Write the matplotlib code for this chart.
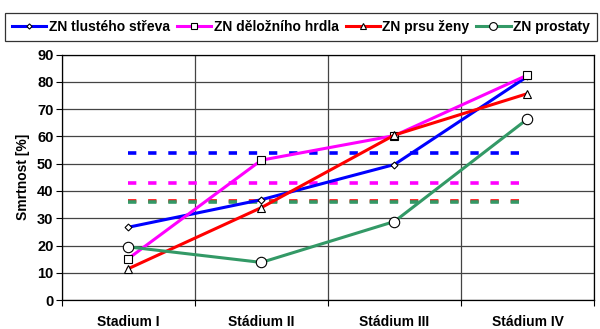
import matplotlib
matplotlib.use("Agg")
import matplotlib.pyplot as plt
import numpy as np

plt.rcParams['font.family'] = ['Liberation Sans', 'DejaVu Sans']
plt.rcParams['font.weight'] = 'bold'
plt.rcParams['lines.scale_dashes'] = False

categories = ["Stadium I", "Stádium II", "Stádium III", "Stádium IV"]
series_names = ["ZN tlustého střeva", "ZN děložního hrdla", "ZN prsu ženy", "ZN prostaty"]
colon = [26.7, 36.8, 49.7, 82.0]
cervix = [15.2, 51.3, 60.3, 82.5]
breast = [11.5, 33.9, 60.5, 75.7]
prostate = [19.5, 13.8, 28.8, 66.4]
averages = [54.0, 42.8, 36.4, 36.0]

colors = ["#0000ff", "#ff00ff", "#ff0000", "#339966"]
markers = ["D", "s", "^", "o"]
msizes = [3.5, 6, 6, 7.5]
values = [colon, cervix, breast, prostate]

fig = plt.figure(figsize=(6.0, 3.29), dpi=100)
ax = fig.add_axes([0.103, 0.088, 0.887, 0.746])

x = np.arange(len(categories))

# horizontal average lines (dashed) drawn first, under the series
for avg, c in zip(averages, colors):
    ax.plot([x[0], x[-1]], [avg, avg], color=c, lw=2.6,
            dashes=(6, 8.5), solid_capstyle='butt', zorder=2)

handles = []
for vals, c, m, ms, name in zip(values, colors, markers, msizes, series_names):
    h, = ax.plot(x, vals, color=c, lw=2.2, marker=m, markersize=ms,
                 markerfacecolor='white', markeredgecolor='black',
                 markeredgewidth=0.8, label=name, zorder=3)
    handles.append(h)

ax.set_xlim(-0.5, len(categories) - 0.5)
ax.set_ylim(0, 90)
ax.set_yticks(np.arange(0, 91, 10))
ax.set_xticks(np.arange(-0.5, len(categories), 1.0))
ax.set_xticklabels([])
ax.set_xticks(x, minor=True)
ax.set_xticklabels(categories, minor=True)
ax.tick_params(axis='x', which='minor', length=0, pad=11, labelsize=10)
ax.tick_params(axis='x', which='major', length=4, color='black')
ax.tick_params(axis='y', length=4, labelsize=10.5, pad=2)

ax.grid(True, axis='both', which='major', color='#444444', lw=0.9)
ax.set_axisbelow(True)
for s in ax.spines.values():
    s.set_color('black')
    s.set_linewidth(0.9)

ax.set_ylabel("Smrtnost [%]", fontsize=10, fontweight='bold', labelpad=5)

leg = fig.legend(handles=handles, loc='upper center', ncol=4,
                 bbox_to_anchor=(0.502, 0.96), frameon=True, fancybox=False,
                 edgecolor='black', handlelength=2.45, markerscale=0.75,
                 handletextpad=0.2, columnspacing=0.5, borderpad=0.5,
                 borderaxespad=0.0,
                 prop={'weight': 'bold', 'size': 10})
leg.get_frame().set_linewidth(0.9)

fig.savefig("out.png", dpi=100)
